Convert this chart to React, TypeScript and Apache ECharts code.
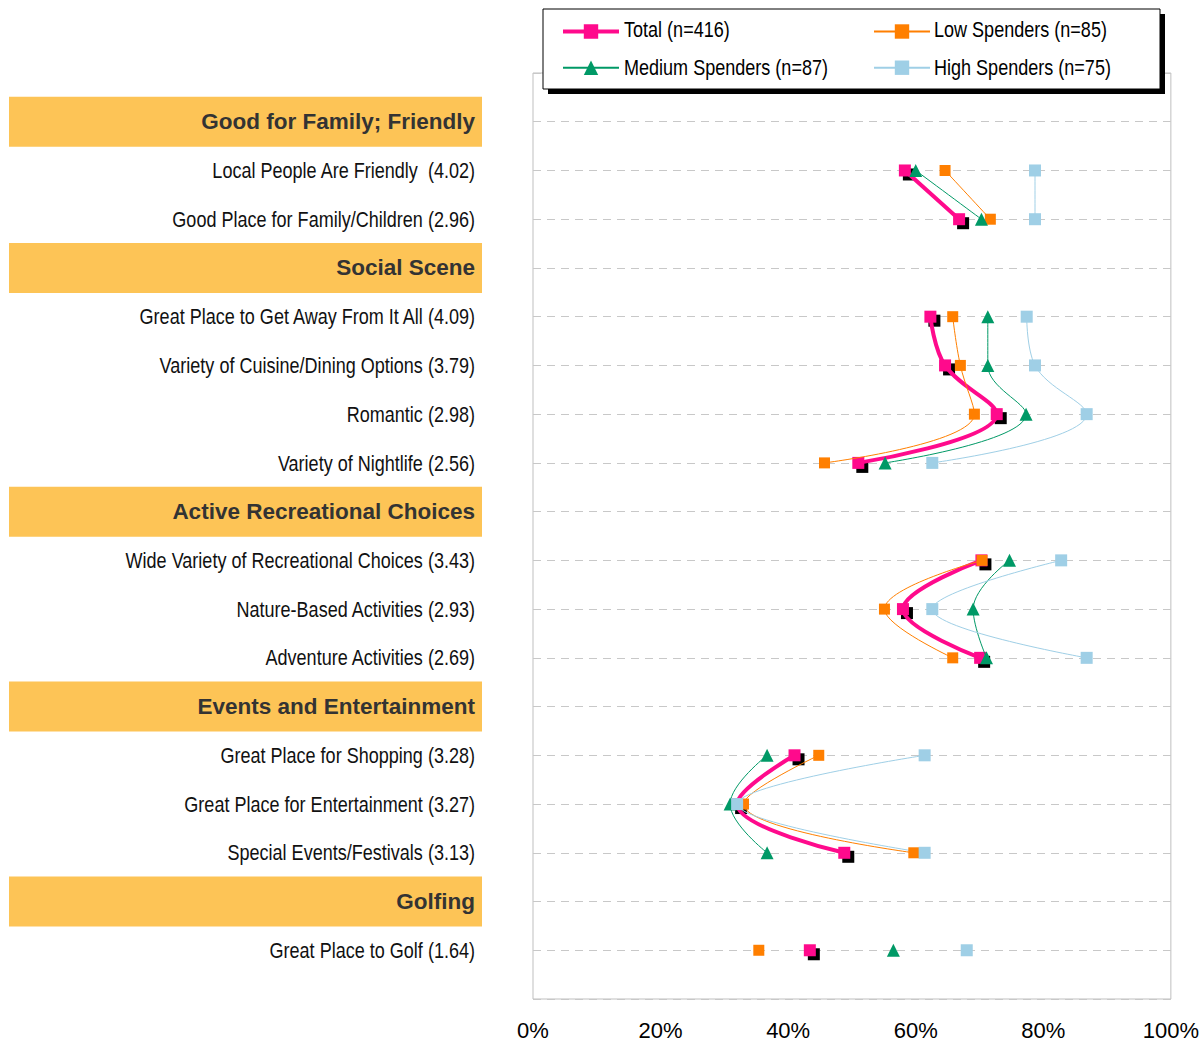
import React, { useEffect, useRef } from "react";
import * as echarts from "echarts";

const categories = [
  "",
  "Good for Family; Friendly",
  "Local People Are Friendly  (4.02)",
  "Good Place for Family/Children (2.96)",
  "Social Scene",
  "Great Place to Get Away From It All (4.09)",
  "Variety of Cuisine/Dining Options (3.79)",
  "Romantic (2.98)",
  "Variety of Nightlife (2.56)",
  "Active Recreational Choices",
  "Wide Variety of Recreational Choices (3.43)",
  "Nature-Based Activities (2.93)",
  "Adventure Activities (2.69)",
  "Events and Entertainment",
  "Great Place for Shopping (3.28)",
  "Great Place for Entertainment (3.27)",
  "Special Events/Festivals (3.13)",
  "Golfing",
  "Great Place to Golf (1.64)",
  "",
];

const headers = [
  "Good for Family; Friendly",
  "Social Scene",
  "Active Recreational Choices",
  "Events and Entertainment",
  "Golfing",
];

const seriesNames = [
  "Total (n=416)",
  "Low Spenders (n=85)",
  "Medium Spenders (n=87)",
  "High Spenders (n=75)",
];

const total = [null, null, 58.3, 66.8, null, 62.3, 64.6, 72.7, 51.0, null, 70.3, 58.0, 70.1, null, 41.0, 32.0, 48.8, null, 43.4, null];
const low = [null, null, 64.6, 71.7, null, 65.8, 67.0, 69.2, 45.7, null, 70.4, 55.1, 65.8, null, 44.8, 33.0, 59.7, null, 35.4, null];
const medium = [null, null, 60.0, 70.3, null, 71.3, 71.3, 77.3, 55.2, null, 74.7, 69.0, 71.1, null, 36.7, 30.9, 36.7, null, 56.5, null];
const high = [null, null, 78.7, 78.7, null, 77.4, 78.7, 86.8, 62.6, null, 82.8, 62.6, 86.8, null, 61.4, 32.0, 61.4, null, 68.0, null];

const xTicks = [0, 20, 40, 60, 80, 100];

const REG = "'Liberation Sans', Arial, sans-serif";
const NARROW_SCALE = 0.82;

const COLORS = {
  total: "#FF0A8C",
  low: "#FF7F00",
  medium: "#009966",
  high: "#9FCFE6",
};

const toData = (arr: (number | null)[]) => arr.map((v) => (v === null ? "-" : v));

export default function App() {
  const ref = useRef<HTMLDivElement>(null);
  useEffect(() => {
    document.body.style.margin = "0";
    if (!ref.current) return;
    const chart = echarts.init(ref.current, undefined, { renderer: "svg" });
    const legendBase = {
      orient: "vertical",
      top: 22.5,
      padding: 0,
      itemGap: 20,
      itemWidth: 56,
      itemHeight: 18,
      formatter: () => "",
      textStyle: { fontSize: 1 },
      z: 10,
    };
    chart.setOption({
      animation: false,
      backgroundColor: "#fff",
      grid: { left: 533, right: 31, top: 73, bottom: 42, show: true, borderColor: "#BFBFBF", borderWidth: 1 },
      xAxis: {
        type: "value",
        min: xTicks[0],
        max: xTicks[xTicks.length - 1],
        interval: 20,
        axisLine: { show: false },
        axisTick: { show: false },
        splitLine: { show: false },
        axisLabel: { formatter: "{value}%", fontFamily: REG, fontSize: 22, color: "#000", margin: 20 },
      },
      yAxis: {
        type: "category",
        data: categories,
        inverse: true,
        boundaryGap: false,
        axisLine: { show: false },
        axisTick: { show: false },
        splitLine: { show: true, lineStyle: { color: "#C8C8C8", type: [8, 6], width: 1 } },
        axisLabel: {
          margin: 51,
          interval: 0,
          formatter: (v: string) => (headers.includes(v) ? `{h|${v}}` : ""),
          rich: {
            h: {
              width: 466,
              height: 50,
              lineHeight: 50,
              backgroundColor: "#FDC456",
              align: "right",
              padding: [0, 7, 0, 0],
              fontFamily: REG,
              fontWeight: "bold",
              fontSize: 22.5,
              color: "#333",
            },
          },
        },
      },
      legend: [
        {
          ...legendBase,
          left: 561,
          data: [
            { name: seriesNames[0], lineStyle: { width: 4 } },
            { name: seriesNames[2] },
          ],
        },
        {
          ...legendBase,
          left: 873,
          data: [{ name: seriesNames[1] }, { name: seriesNames[3] }],
        },
      ],
      series: [
        {
          name: "shadow",
          type: "line",
          data: toData(total),
          symbol: "rect",
          symbolSize: 12,
          symbolOffset: [4, 4],
          lineStyle: { width: 0, opacity: 0 },
          itemStyle: { color: "#000" },
          z: 2,
          silent: true,
        },
        {
          name: seriesNames[0],
          type: "line",
          data: toData(total),
          smooth: 0.4,
          symbol: "rect",
          symbolSize: 12,
          lineStyle: { width: 4, color: COLORS.total },
          itemStyle: { color: COLORS.total },
          z: 3,
        },
        {
          name: seriesNames[1],
          type: "line",
          data: toData(low),
          smooth: 0.4,
          symbol: "rect",
          symbolSize: 11,
          lineStyle: { width: 1, color: COLORS.low },
          itemStyle: { color: COLORS.low },
          z: 4,
        },
        {
          name: seriesNames[2],
          type: "line",
          data: toData(medium),
          smooth: 0.4,
          symbol: "triangle",
          symbolSize: 13,
          lineStyle: { width: 1, color: COLORS.medium },
          itemStyle: { color: COLORS.medium },
          z: 4,
        },
        {
          name: seriesNames[3],
          type: "line",
          data: toData(high),
          smooth: 0.4,
          symbol: "rect",
          symbolSize: 12,
          lineStyle: { width: 1, color: COLORS.high },
          itemStyle: { color: COLORS.high },
          z: 4,
        },
      ],
    });

    // Row labels (narrow font look), positioned through the category axis
    const labelTexts = categories
      .map((c, i) => ({ c, i }))
      .filter(({ c }) => c && !headers.includes(c))
      .map(({ c, i }) => {
        const y = chart.convertToPixel({ yAxisIndex: 0 }, i) as number;
        return {
          type: "text",
          x: 475,
          y,
          scaleX: NARROW_SCALE,
          z: 10,
          style: {
            text: c,
            fill: "#111",
            font: `22px ${REG}`,
            align: "right",
            verticalAlign: "middle",
          },
        };
      });

    const legendLabels = [
      { name: seriesNames[0], x: 624, y: 29 },
      { name: seriesNames[1], x: 934, y: 29 },
      { name: seriesNames[2], x: 624, y: 67.5 },
      { name: seriesNames[3], x: 934, y: 67.5 },
    ].map((l) => ({
      type: "text",
      x: l.x,
      y: l.y,
      scaleX: NARROW_SCALE,
      z: 20,
      style: { text: l.name, fill: "#000", font: `22px ${REG}`, align: "left", verticalAlign: "middle" },
    }));

    chart.setOption({
      graphic: [
        { type: "rect", shape: { x: 548, y: 14, width: 617, height: 80 }, style: { fill: "#000" }, z: 5 },
        { type: "rect", shape: { x: 543, y: 9, width: 617, height: 80 }, style: { fill: "#fff", stroke: "#000", lineWidth: 1 }, z: 6 },
        ...labelTexts,
        ...legendLabels,
      ],
    });
    return () => chart.dispose();
  }, []);
  return <div ref={ref} style={{ width: 1202, height: 1041 }} />;
}
